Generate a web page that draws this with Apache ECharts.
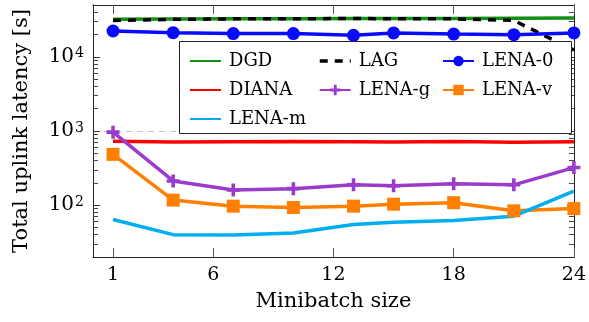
<!DOCTYPE html>
<html>
<head>
<meta charset="utf-8">
<script src="https://cdn.jsdelivr.net/npm/echarts@6/dist/echarts.min.js"></script>
<style>html,body{margin:0;padding:0;background:#fff}#c{width:589px;height:322px}</style>
</head>
<body>
<div id="c"></div>
<script>
const xs = [1, 4, 7, 10, 13, 15, 18, 21, 24];
const dgd   = [32000, 32300, 32500, 32700, 33000, 33000, 33000, 33200, 33500];
const lag   = [31000, 32000, 32500, 32500, 33000, 32500, 32500, 31000, 12300];
const lena0 = [22300, 21200, 20600, 20600, 19500, 21000, 20300, 19900, 21000];
const diana = [730, 710, 715, 720, 715, 710, 720, 705, 715];
const lenaG = [965, 212, 160, 167, 188, 183, 194, 188, 321];
const lenaV = [484, 117, 97, 93, 97, 103, 108, 84, 90];
const lenaM = [64, 40, 39.5, 42, 55, 59, 62, 71, 155];
const xTicks = [1, 6, 12, 18, 24];
const yMajor = [100, 1000, 10000];
const yMinor = [30, 40, 50, 60, 70, 80, 90, 200, 300, 400, 500, 600, 700, 800, 900,
                2000, 3000, 4000, 5000, 6000, 7000, 8000, 9000, 20000, 30000, 40000];
const expOf = {100: '2', 1000: '3', 10000: '4'};

const FONT = 'DejaVu Serif';
const pts = arr => xs.map((x, i) => [x, arr[i]]);
const PLUS = 'path://M4,0H7V4H11V7H7V11H4V7H0V4H4Z';

function line(name, data, color, opts) {
  return Object.assign({
    name, type: 'line', data: pts(data), xAxisIndex: 0, yAxisIndex: 0,
    symbol: 'none', symbolSize: 13, showSymbol: true,
    lineStyle: {color, width: 3.5}, itemStyle: {color},
    emphasis: {disabled: true}, z: 2
  }, opts || {});
}

const axLine = {show: true, lineStyle: {color: '#222', width: 1}};
const yBase = {type: 'log', logBase: 10, min: 20, max: 50000, axisLine: axLine, axisLabel: {show: false}, splitLine: {show: false}};
const legText = {fontFamily: FONT, fontSize: 18, color: '#000', lineHeight: 13, padding: [0, 0, 0, 3]};
const noSym = name => ({name, itemStyle: {opacity: 0}});
function leg(left, data) {
  return {orient: 'vertical', left, top: 52, padding: 0, itemWidth: 31, itemHeight: 13, itemGap: 11,
          data, textStyle: legText, selectedMode: false, z: 10};
}

const chart = echarts.init(document.getElementById('c'));
chart.setOption({
  animation: false,
  backgroundColor: '#fff',
  grid: {left: 93, right: 12, top: 5, bottom: 65},
  xAxis: [
    {type: 'value', min: 0, max: 24, position: 'bottom', axisLine: axLine,
     axisTick: {inside: true, length: 9, customValues: xTicks, lineStyle: {color: '#555'}},
     axisLabel: {customValues: xTicks, fontFamily: FONT, fontSize: 19, color: '#000', margin: 9},
     splitLine: {show: false},
     name: 'Minibatch size', nameLocation: 'middle', nameGap: 34,
     nameTextStyle: {fontFamily: FONT, fontSize: 21, color: '#000'}},
    {type: 'value', min: 0, max: 24, position: 'top', axisLine: axLine,
     axisTick: {inside: true, length: 9, customValues: xTicks, lineStyle: {color: '#555'}},
     axisLabel: {show: false}, splitLine: {show: false}}
  ],
  yAxis: [
    Object.assign({}, yBase, {position: 'left',
      axisTick: {inside: true, length: 7, customValues: yMajor, lineStyle: {color: '#333'}},
      axisLabel: {show: true, customValues: yMajor, margin: 9,
        formatter: v => '{b|10}{e|' + (expOf[Math.round(v)] || '') + '}',
        rich: {b: {fontFamily: FONT, fontSize: 20, color: '#000', verticalAlign: 'bottom'},
               e: {fontFamily: FONT, fontSize: 14, color: '#000', verticalAlign: 'top', padding: [0, 0, 0, 1]}}},
      splitLine: {show: true, showMinLine: false, showMaxLine: false,
        lineStyle: {color: '#c4c4c4', type: [6, 5], width: 1}},
      name: 'Total uplink latency [s]', nameLocation: 'middle', nameGap: 61,
      nameTextStyle: {fontFamily: FONT, fontSize: 21, color: '#000'}}),
    Object.assign({}, yBase, {position: 'left',
      axisTick: {inside: true, length: 5, customValues: yMinor, lineStyle: {color: '#444'}}}),
    Object.assign({}, yBase, {position: 'right',
      axisTick: {inside: true, length: 7, customValues: yMajor, lineStyle: {color: '#333'}}}),
    Object.assign({}, yBase, {position: 'right',
      axisTick: {inside: true, length: 5, customValues: yMinor, lineStyle: {color: '#444'}}})
  ],
  legend: [
    leg(189, [noSym('DGD'), noSym('DIANA'), noSym('LENA-m')]),
    leg(318, [{name: 'LAG', itemStyle: {opacity: 0},
               lineStyle: {color: '#000', width: 3.5, type: [8, 7], dashOffset: 0}}, 'LENA-g']),
    leg(442, ['LENA-0', 'LENA-v'])
  ],
  graphic: [
    {type: 'rect', left: 179, top: 41, z: 5,
     shape: {width: 392, height: 92},
     style: {fill: '#fff', stroke: '#222', lineWidth: 1}}
  ],
  series: [
    line('DGD', dgd, '#129012'),
    line('LAG', lag, '#000', {lineStyle: {color: '#000', width: 3.5, type: [8, 7]}}),
    line('LENA-0', lena0, '#0a0aff', {symbol: 'circle', symbolSize: 13}),
    line('DIANA', diana, '#ff0000'),
    line('LENA-g', lenaG, '#9a3bcc', {symbol: PLUS, symbolSize: 13}),
    line('LENA-v', lenaV, '#ff8000', {symbol: 'rect', symbolSize: 13}),
    line('LENA-m', lenaM, '#00aeef')
  ]
});
</script>
</body>
</html>
